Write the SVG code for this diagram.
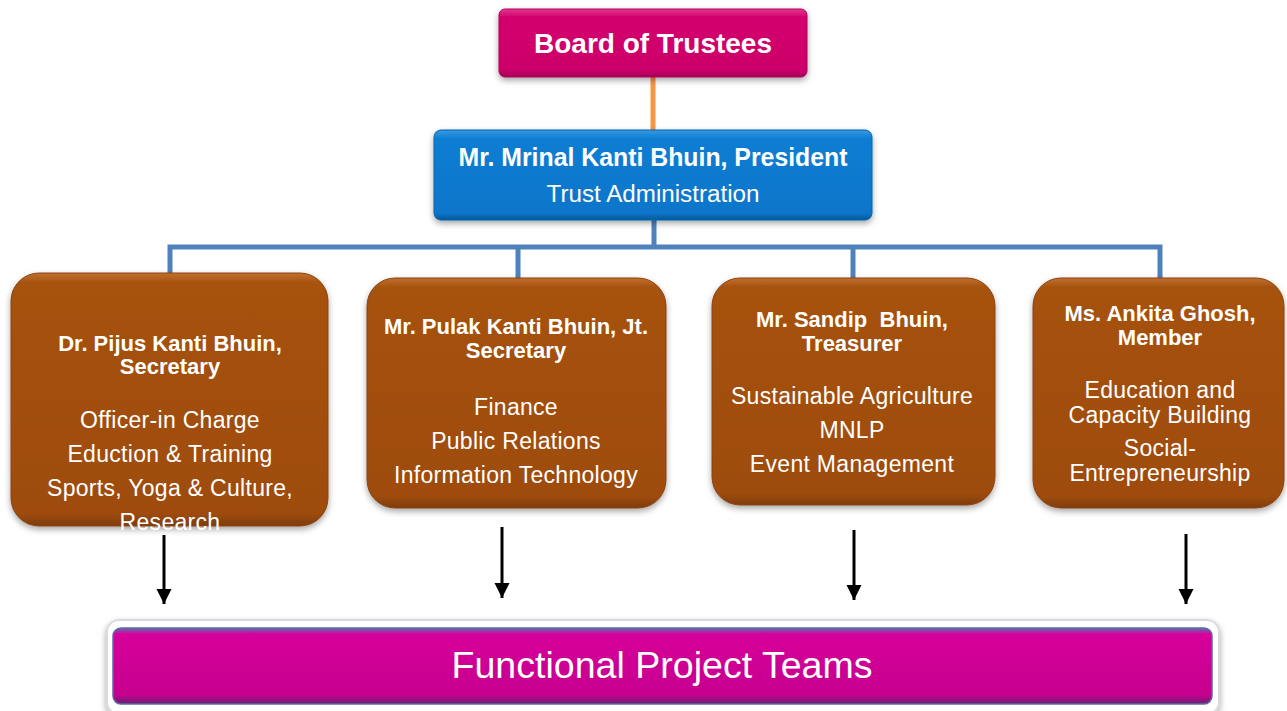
<svg xmlns="http://www.w3.org/2000/svg" width="1287" height="711" viewBox="0 0 1287 711">
<style>
.t{font-family:"Liberation Sans",Arial,sans-serif;fill:#fff;text-anchor:middle}
.b{font-weight:bold}
.h{font-size:22px;font-weight:bold}
.s{font-size:23px;letter-spacing:0.3px}
.conn{fill:none;stroke:#4F81BD;stroke-width:5}
.arr{stroke:#000;stroke-width:3;marker-end:url(#ah)}
</style>
<defs>
<marker id="ah" markerWidth="16" markerHeight="16" viewBox="0 0 16 16" refX="15" refY="7.5" orient="auto" markerUnits="userSpaceOnUse">
<path d="M0,0 L15,7.5 L0,15 Z" fill="#000"/>
</marker>
<filter id="sh" x="-10%" y="-10%" width="120%" height="130%">
<feDropShadow dx="0" dy="3" stdDeviation="3" flood-color="#000" flood-opacity="0.35"/>
</filter>
<linearGradient id="gBr" x1="0" y1="0" x2="0" y2="1">
<stop offset="0" stop-color="#C0702E"/>
<stop offset="0.04" stop-color="#A6520F"/>
<stop offset="0.95" stop-color="#9E4C0D"/>
<stop offset="1" stop-color="#7E3C0A"/>
</linearGradient>
<linearGradient id="gPk" x1="0" y1="0" x2="0" y2="1">
<stop offset="0" stop-color="#E0388A"/>
<stop offset="0.12" stop-color="#D3006E"/>
<stop offset="0.9" stop-color="#CC006A"/>
<stop offset="1" stop-color="#A00055"/>
</linearGradient>
<linearGradient id="gBl" x1="0" y1="0" x2="0" y2="1">
<stop offset="0" stop-color="#3A98E0"/>
<stop offset="0.1" stop-color="#0B7DD3"/>
<stop offset="0.92" stop-color="#0876CA"/>
<stop offset="1" stop-color="#05599C"/>
</linearGradient>
<linearGradient id="gMg" x1="0" y1="0" x2="0" y2="1">
<stop offset="0" stop-color="#6070B0"/>
<stop offset="0.08" stop-color="#D6009A"/>
<stop offset="0.88" stop-color="#C6008F"/>
<stop offset="1" stop-color="#6A2070"/>
</linearGradient>
</defs>

<g id="connectors">
<line x1="653" y1="77" x2="653" y2="130" stroke="#F79646" stroke-width="5"/>
<path class="conn" d="M654,220 V248 M170,274 V247 H654 H1160 V278 M518,248 V279 M853,248 V279"/>
<line class="arr" x1="164" y1="535" x2="164" y2="604"/>
<line class="arr" x1="502" y1="527" x2="502" y2="598"/>
<line class="arr" x1="854" y1="530" x2="854" y2="600"/>
<line class="arr" x1="1186" y1="534" x2="1186" y2="604"/>
</g>

<g id="board">
<rect x="499" y="9" width="308" height="68" rx="6" fill="url(#gPk)" stroke="#B0005C" stroke-width="1" filter="url(#sh)"/>
<text class="t b" x="653" y="53" font-size="27" textLength="238" lengthAdjust="spacingAndGlyphs">Board of Trustees</text>
</g>

<g id="president">
<rect x="434" y="130" width="438" height="90" rx="7" fill="url(#gBl)" stroke="#0763A8" stroke-width="1" filter="url(#sh)"/>
<text class="t b" x="653" y="166" font-size="25" textLength="389" lengthAdjust="spacingAndGlyphs">Mr. Mrinal Kanti Bhuin, President</text>
<text class="t" x="653" y="202" font-size="23" textLength="213" lengthAdjust="spacingAndGlyphs">Trust Administration</text>
</g>

<g id="secretary">
<rect x="11" y="273" width="317" height="253" rx="28" fill="url(#gBr)" stroke="#8A4210" stroke-width="1" filter="url(#sh)"/>
<text class="t h" x="170" y="351">Dr. Pijus Kanti Bhuin,</text>
<text class="t h" x="170" y="374">Secretary</text>
<text class="t s" x="170" y="428">Officer-in Charge</text>
<text class="t s" x="170" y="462">Eduction &amp; Training</text>
<text class="t s" x="170" y="496">Sports, Yoga &amp; Culture,</text>
<text class="t s" x="170" y="530">Research</text>
</g>

<g id="jt-secretary">
<rect x="367" y="278" width="299" height="230" rx="28" fill="url(#gBr)" stroke="#8A4210" stroke-width="1" filter="url(#sh)"/>
<text class="t h" x="516" y="334">Mr. Pulak Kanti Bhuin, Jt.</text>
<text class="t h" x="516" y="358">Secretary</text>
<text class="t s" x="516" y="415">Finance</text>
<text class="t s" x="516" y="449">Public Relations</text>
<text class="t s" x="516" y="483">Information Technology</text>
</g>

<g id="treasurer">
<rect x="712" y="278" width="283" height="227" rx="28" fill="url(#gBr)" stroke="#8A4210" stroke-width="1" filter="url(#sh)"/>
<text class="t h" x="852" y="327" xml:space="preserve">Mr. Sandip  Bhuin,</text>
<text class="t h" x="852" y="351">Treasurer</text>
<text class="t s" x="852" y="404">Sustainable Agriculture</text>
<text class="t s" x="852" y="438">MNLP</text>
<text class="t s" x="852" y="472">Event Management</text>
</g>

<g id="member">
<rect x="1033" y="278" width="251" height="230" rx="28" fill="url(#gBr)" stroke="#8A4210" stroke-width="1" filter="url(#sh)"/>
<text class="t h" x="1160" y="321">Ms. Ankita Ghosh,</text>
<text class="t h" x="1160" y="345">Member</text>
<text class="t s" x="1160" y="398">Education and</text>
<text class="t s" x="1160" y="423">Capacity Building</text>
<text class="t s" x="1160" y="456">Social-</text>
<text class="t s" x="1160" y="481">Entrepreneurship</text>
</g>

<g id="teams">
<rect x="107" y="620" width="1112" height="94" rx="12" fill="#fff" stroke="#D8DCE0" stroke-width="2" filter="url(#sh)"/>
<rect x="113" y="628" width="1099" height="76" rx="8" fill="url(#gMg)" stroke="#5A6AA8" stroke-width="1.5"/>
<text class="t" x="662" y="678" font-size="37" textLength="421" lengthAdjust="spacingAndGlyphs">Functional Project Teams</text>
</g>
</svg>
